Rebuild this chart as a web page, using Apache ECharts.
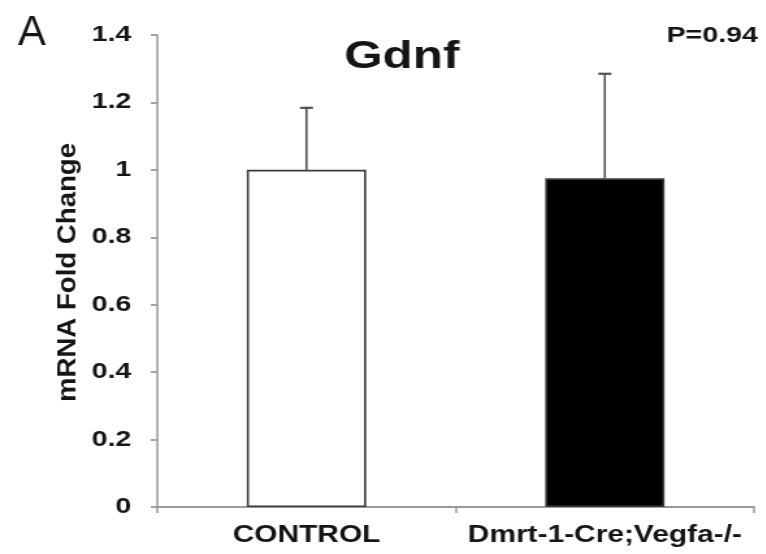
<!DOCTYPE html>
<html><head><meta charset="utf-8">
<script src="https://cdn.jsdelivr.net/npm/echarts@6/dist/echarts.min.js"></script>
<style>
html,body{margin:0;padding:0;background:#fff;overflow:hidden;width:766px;height:554px}
/* the reference figure is horizontally stretched; reproduce that stretch */
#c{width:589px;height:554px;transform:scaleX(1.3);transform-origin:0 0}
</style>
</head><body><div id="c"></div>
<script>
const categories = ['CONTROL', 'Dmrt-1-Cre;Vegfa-/-'];
const means = [1.0, 0.975];
const errors = [0.184, 0.31];
const barColors = ['#ffffff', '#000000'];
const yTicks = [0, 0.2, 0.4, 0.6, 0.8, 1, 1.2, 1.4];

const S = 1.3;
const chart = echarts.init(document.getElementById('c'));
const font = 'Liberation Sans, Arial, sans-serif';
const ink = '#151515';
chart.setOption({
  animation: false,
  backgroundColor: '#fff',
  grid: {left: 121, right: 9, top: 35, bottom: 47},
  title: [
    {text: 'Gdnf', left: 304, top: 34, textAlign: 'center',
     textStyle: {fontFamily: font, fontSize: 38, fontWeight: 'bold', color: ink}},
    {text: 'P=0.94', right: 1, top: 20,
     textStyle: {fontFamily: font, fontSize: 22, fontWeight: 'bold', color: ink}}
  ],
  graphic: [
    {type: 'text', x: 13.8, y: 12, scaleX: 1 / S,
     style: {text: 'A', fontFamily: font, fontSize: 42, fontWeight: 'normal', fill: ink}},
    {type: 'text', x: 52, y: 272.5, rotation: Math.PI / 2, scaleX: 1.38,
     style: {text: 'mRNA Fold Change', fontFamily: font, fontSize: 20, fontWeight: 'bold',
             fill: ink, align: 'center', verticalAlign: 'middle'}}
  ],
  xAxis: {
    type: 'category', data: categories,
    axisLine: {lineStyle: {color: '#999', width: 1.8}},
    axisTick: {show: true, length: 6, interval: 0, lineStyle: {color: '#999', width: 1.5}},
    axisLabel: {interval: 0, hideOverlap: false, fontFamily: font, fontSize: 23, fontWeight: 'bold', color: ink, margin: 17}
  },
  yAxis: {
    type: 'value', min: 0, max: 1.4, interval: 0.2,
    axisLine: {show: true, lineStyle: {color: '#999', width: 1.5}},
    axisTick: {show: true, length: 5, lineStyle: {color: '#999', width: 1.8}},
    splitLine: {show: false},
    axisLabel: {fontFamily: font, fontSize: 22, fontWeight: 'bold', color: ink, margin: 20,
      formatter: v => {
        const r = Math.round(v * 10) / 10;
        return yTicks.includes(r) ? String(r) : '';
      }}
  },
  series: [
    {
      type: 'bar', barWidth: '40%',
      data: means.map((v, i) => ({value: v, itemStyle: {color: barColors[i], borderColor: '#3a3a3a', borderWidth: 1.6}})),
      z: 2
    },
    {
      type: 'custom', z: 3,
      data: means.map((v, i) => [i, v, v + errors[i]]),
      renderItem: (params, api) => {
        const x = api.value(0);
        const base = api.coord([x, api.value(1)]);
        const top = api.coord([x, api.value(2)]);
        const hw = 5;
        const style = {stroke: '#505050', lineWidth: 1.6};
        return {type: 'group', children: [
          {type: 'line', shape: {x1: base[0], y1: base[1], x2: top[0], y2: top[1]}, style},
          {type: 'line', shape: {x1: top[0] - hw, y1: top[1], x2: top[0] + hw, y2: top[1]}, style: {stroke: '#505050', lineWidth: 2.2}}
        ]};
      }
    }
  ]
});
</script></body></html>
